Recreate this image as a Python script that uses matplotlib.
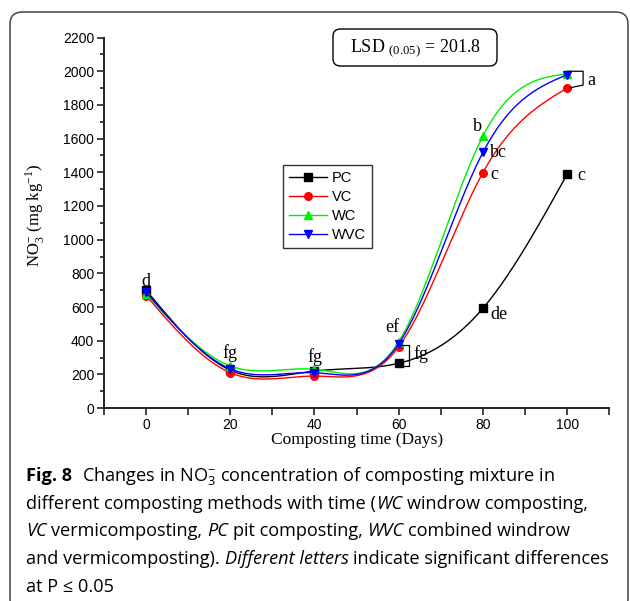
import numpy as np
import matplotlib
matplotlib.use("Agg")
import matplotlib.pyplot as plt
from matplotlib.lines import Line2D
from matplotlib.patches import FancyBboxPatch

# datos
days = [0, 20, 40, 60, 80, 100]
pc = [700, 225, 220, 266, 592, 1388]
vc = [668, 210, 190, 364, 1398, 1900]
wc = [678, 250, 230, 393, 1615, 1985]
wvc = [688, 233, 210, 382, 1518, 1980]

series_names = ["PC", "VC", "WC", "WVC"]
series_vals = [pc, vc, wc, wvc]
series_colors = ["black", "#ff0000", "#00ee00", "#0000ff"]
series_markers = ["s", "o", "^", "v"]
marker_sizes = [5.2, 5.5, 6.2, 6.2]

# letras de significancia (x, y, texto)
letters = [
    (0, 750, "d"), (20, 325, "fg"), (40, 305, "fg"), (58.6, 480, "ef"),
    (65.3, 318, "fg"), (78.8, 1672, "b"), (83.6, 1515, "bc"),
    (82.7, 1388, "c"), (83.9, 556, "de"), (103.4, 1382, "c"), (105.8, 1948, "a"),
]

serif = "Liberation Serif"
sans = "Liberation Sans"
plt.rcParams["mathtext.fontset"] = "stix"


def natural_spline(x, y, n=300):
    # spline cubico natural para suavizar la linea (como Origin)
    x = np.asarray(x, float)
    y = np.asarray(y, float)
    k = len(x)
    h = np.diff(x)
    A = np.zeros((k, k))
    b = np.zeros(k)
    A[0, 0] = A[-1, -1] = 1
    for i in range(1, k - 1):
        A[i, i - 1] = h[i - 1]
        A[i, i] = 2 * (h[i - 1] + h[i])
        A[i, i + 1] = h[i]
        b[i] = 6 * ((y[i + 1] - y[i]) / h[i] - (y[i] - y[i - 1]) / h[i - 1])
    M = np.linalg.solve(A, b)
    xs = np.linspace(x[0], x[-1], n)
    idx = np.clip(np.searchsorted(x, xs) - 1, 0, k - 2)
    x0, x1 = x[idx], x[idx + 1]
    hh = x1 - x0
    t0 = x1 - xs
    t1 = xs - x0
    ys = (M[idx] * t0**3 / (6 * hh) + M[idx + 1] * t1**3 / (6 * hh)
          + (y[idx] / hh - M[idx] * hh / 6) * t0
          + (y[idx + 1] / hh - M[idx + 1] * hh / 6) * t1)
    return xs, ys


fig = plt.figure(figsize=(6.3, 6.01), dpi=100)
ax = fig.add_axes([0.165, 0.321, 0.802, 0.6165])

handles = []
for name, vals, col, mk, ms in zip(series_names, series_vals, series_colors,
                                   series_markers, marker_sizes):
    xs, ys = natural_spline(days, vals)
    ax.plot(xs, ys, color=col, lw=1.0)
    ax.plot(days, vals, ls="none", marker=mk, color=col, ms=ms, mec=col)
    handles.append(Line2D([], [], color=col, marker=mk, ms=ms, lw=1.0, label=name))

# corchetes
ax.plot([60.6, 62.4, 62.4, 60.8], [376, 376, 250, 250], color="black", lw=0.9)
ax.plot([100.5, 103.8, 103.8, 100.7], [2000, 2000, 1918, 1902], color="black", lw=0.9)

for x, y, s in letters:
    ax.text(x, y, s, family=serif, fontsize=13, ha="center", va="center")

ax.set_xlim(-10, 110)
ax.set_ylim(0, 2200)
ax.set_xticks([0, 20, 40, 60, 80, 100])
ax.set_xticks(np.arange(-10, 111, 20), minor=True)
ax.set_yticks(np.arange(0, 2201, 200))
ax.set_yticks(np.arange(100, 2200, 200), minor=True)
for sp in ["top", "right"]:
    ax.spines[sp].set_visible(False)
for sp in ["left", "bottom"]:
    ax.spines[sp].set_linewidth(1.4)
    ax.spines[sp].set_color("#222222")
ax.tick_params(which="major", length=5, width=1.2, color="#222222", labelsize=10, pad=2)
ax.tick_params(which="minor", length=3, width=1.2, color="#222222")
ax.tick_params(axis="x", which="minor", length=5)
for lab in ax.get_xticklabels() + ax.get_yticklabels():
    lab.set_family(sans)

ax.set_xlabel("Composting time (Days)", family=serif, fontsize=12.5, labelpad=0)
ax.set_ylabel(r"NO$_\mathregular{3}^{\mathregular{-}}$ (mg kg$^{\mathregular{-1}}$)",
              family=serif, fontsize=12)
ax.yaxis.set_label_coords(-0.113, 0.52)

leg = ax.legend(handles=handles, loc="upper left", bbox_to_anchor=(283 / 630, 1 - 165 / 601),
                bbox_transform=fig.transFigure, prop={"family": sans, "size": 10.5},
                frameon=True, fancybox=False, edgecolor="black", handlelength=2.6,
                handletextpad=0.35, labelspacing=0.35, borderpad=0.4, borderaxespad=0)
leg.get_frame().set_linewidth(1.0)

# caja LSD
fig.add_artist(FancyBboxPatch((333 / 630, 1 - 66 / 601), 164 / 630, 37 / 601,
                              boxstyle="round,pad=0,rounding_size=0.012",
                              transform=fig.transFigure, fc="white", ec="black", lw=1.0))
fig.text(415 / 630, 1 - 48 / 601, r"LSD $_{\mathregular{(0.05)}}$ = 201.8",
         family=serif, fontsize=13, ha="center", va="center")

# marco exterior
fig.add_artist(FancyBboxPatch((10 / 630, -10 / 601), 618 / 630, 599 / 601,
                              boxstyle="round,pad=0,rounding_size=0.02",
                              transform=fig.transFigure, fc="none", ec="#444444", lw=1.1,
                              clip_on=False))

# pie de figura
cap = "Open Sans"
cap_size = 13.1
renderer = fig.canvas.get_renderer()


def width_of(s, **kw):
    t = fig.text(0, 0, s, **kw)
    w = t.get_window_extent(renderer).width / fig.bbox.width
    t.remove()
    return w


space = width_of("a a", family=cap, fontsize=cap_size) - width_of("aa", family=cap, fontsize=cap_size)


def caption_line(y_px, parts):
    x = 26 / 630
    y = 1 - y_px / 601
    for s, style in parts:
        kw = {"family": cap, "fontsize": cap_size}
        if style == "b":
            kw["fontweight"] = "bold"
        if style == "i":
            kw["fontstyle"] = "italic"
        if s.startswith(" "):
            x += space
        body = s.strip()
        t = fig.text(x, y, body, va="baseline", **kw)
        x += t.get_window_extent(renderer).width / fig.bbox.width
        if s.endswith(" "):
            x += space
        if s.endswith("  "):
            x += space


caption_line(481, [("Fig. 8  ", "b"),
                   (r"Changes in NO$_\mathregular{3}^\mathregular{-}$ concentration of composting mixture in", "r")])
caption_line(509, [("different composting methods with time (", "r"), ("WC", "i"),
                   (" windrow composting,", "r")])
caption_line(536, [("VC", "i"), (" vermicomposting, ", "r"), ("PC", "i"),
                   (" pit composting, ", "r"), ("WVC", "i"), (" combined windrow", "r")])
caption_line(564, [("and vermicomposting). ", "r"), ("Different letters", "i"),
                   (" indicate significant differences", "r")])
caption_line(592, [("at P \u2264 0.05", "r")])

fig.savefig("out.png", dpi=100)
